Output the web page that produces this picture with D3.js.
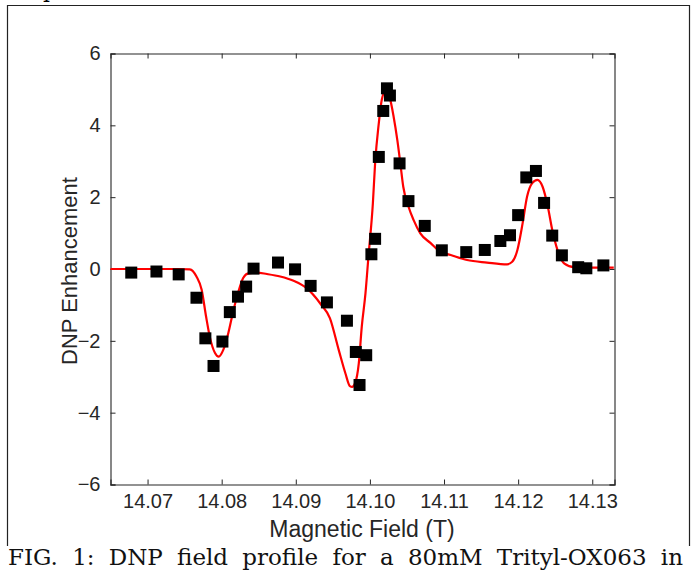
<!DOCTYPE html>
<html><head><meta charset="utf-8">
<script src="https://cdn.jsdelivr.net/npm/d3@7"></script>
<style>body{margin:0;background:#fff}svg{display:block}</style>
</head><body>
<script>
// Measured data points (Magnetic field in T, DNP enhancement)
const fieldData = [14.0678,14.0712,14.0742,14.0766,14.0778,14.0789,14.0801,14.0811,14.0822,14.0833,14.0843,
  14.0876,14.0899,14.0920,14.0942,14.0969,14.0981,14.0986,14.0995,14.1002,14.1007,14.1012,14.1018,14.1023,14.1027,
  14.1040,14.1052,14.1074,14.1097,14.1130,14.1155,14.1176,14.1189,14.1200,14.1211,14.1224,14.1235,14.1246,14.1259,
  14.1281,14.1292,14.1315];
const enhData = [-0.10,-0.07,-0.15,-0.80,-1.93,-2.70,-2.02,-1.20,-0.77,-0.49,0.01,
  0.18,-0.01,-0.47,-0.93,-1.44,-2.31,-3.23,-2.40,0.41,0.84,3.12,4.40,5.03,4.83,
  2.94,1.89,1.20,0.52,0.47,0.53,0.78,0.94,1.50,2.55,2.73,1.84,0.93,0.38,
  0.05,0.02,0.10];
// Fit curve samples
const fitField = [14.0650,14.0680,14.0710,14.0740,14.0757,14.0766,14.0773,14.0779,14.0784,14.0791,14.0796,14.0802,14.0809,14.0815,14.0822,
  14.0829,14.0836,14.0847,14.0861,14.0879,14.0897,14.0915,14.0933,14.0946,14.0958,14.0967,14.0973,14.0976,14.0980,
  14.0985,14.0989,14.0994,14.0998,14.1004,14.1007,14.1012,14.1016,14.1020,14.1023,14.1027,14.1032,14.1037,14.1041,
  14.1045,14.1052,14.1059,14.1068,14.1082,14.1095,14.1109,14.1131,14.1158,14.1185,14.1192,14.1199,14.1206,14.1212,
  14.1219,14.1226,14.1233,14.1240,14.1246,14.1253,14.1262,14.1276,14.1300,14.1329];
const fitEnh = [0.00,0.00,0.00,0.00,-0.01,-0.21,-0.58,-1.33,-1.89,-2.34,-2.44,-2.26,-1.78,-1.23,-0.67,
  -0.25,-0.12,-0.10,-0.14,-0.21,-0.33,-0.54,-0.96,-1.37,-2.26,-2.91,-3.26,-3.28,-3.18,
  -2.63,-1.61,-0.68,0.34,1.83,2.94,4.06,4.71,4.92,4.93,4.75,4.24,3.59,2.95,
  2.29,1.74,1.36,0.99,0.72,0.48,0.39,0.25,0.18,0.13,0.20,0.53,1.27,2.01,
  2.39,2.48,2.29,1.74,1.09,0.53,0.16,0.05,0.04,0.04];
const xTicks = [14.07,14.08,14.09,14.10,14.11,14.12,14.13];
const yTicks = [-6,-4,-2,0,2,4,6];
const xLabel = "Magnetic Field (T)";
const yLabel = "DNP Enhancement";
const caption = "FIG. 1: DNP field profile for a 80mM Trityl-OX063 in";

const W = 691, H = 571;
const svg = d3.select("body").append("svg").attr("width", W).attr("height", H);
svg.append("rect").attr("width", W).attr("height", H).attr("fill", "#fff");

// outer frame (open at bottom, caption below)
svg.append("path").attr("d", "M7.5,546 V5.5 H689.5 V546").attr("fill", "none").attr("stroke", "#222").attr("stroke-width", 1.2);
svg.append("text").attr("x", 43).attr("y", -3).attr("font-family", "DejaVu Serif").attr("font-size", 22).text("p");

const L = 110.5, R = 614.5, T = 53.5, B = 484.5;
const x = d3.scaleLinear().domain([14.065, 14.133]).range([L, R]);
const y = d3.scaleLinear().domain([-6, 6]).range([B, T]);

const font = "Liberation Sans, Arial, Helvetica, sans-serif";
const axCol = "#262626";

const gx = svg.append("g").attr("transform", `translate(0,${B})`)
  .call(d3.axisBottom(x).tickValues(xTicks).tickSize(-5).tickPadding(9).tickFormat(d3.format(".2f")));
const gxt = svg.append("g").attr("transform", `translate(0,${T})`)
  .call(d3.axisTop(x).tickValues(xTicks).tickSize(-5).tickFormat(""));
const gy = svg.append("g").attr("transform", `translate(${L},0)`)
  .call(d3.axisLeft(y).tickValues(yTicks).tickSize(-5).tickPadding(10).tickFormat(d3.format("d")));
const gyr = svg.append("g").attr("transform", `translate(${R},0)`)
  .call(d3.axisRight(y).tickValues(yTicks).tickSize(-5).tickFormat(""));
[gx, gxt, gy, gyr].forEach(g => {
  g.select(".domain").attr("stroke", axCol).attr("stroke-width", 1.1);
  g.selectAll(".tick line").attr("stroke", axCol).attr("stroke-width", 1);
  g.selectAll("text").attr("font-family", font).attr("font-size", 20).attr("fill", "#262626");
});
gx.selectAll("text").attr("dy", "0.71em");

// fit curve
const line = d3.line().x((d, i) => x(fitField[i])).y(d => y(d)).curve(d3.curveMonotoneX);
svg.append("path").attr("d", line(fitEnh)).attr("fill", "none").attr("stroke", "#ff0000").attr("stroke-width", 2.2);

// markers
const s = 12;
svg.append("g").selectAll("rect").data(enhData).join("rect")
  .attr("x", (d, i) => x(fieldData[i]) - s / 2).attr("y", d => y(d) - s / 2)
  .attr("width", s).attr("height", s).attr("fill", "#000");

svg.append("text").attr("x", (L + R) / 2 - 0.5).attr("y", 537).attr("text-anchor", "middle")
  .attr("font-family", font).attr("font-size", 23).attr("fill", "#262626").text(xLabel);
svg.append("text").attr("transform", `translate(77,${(T + B) / 2 + 2}) rotate(-90)`).attr("text-anchor", "middle")
  .attr("font-family", font).attr("font-size", 22).attr("fill", "#262626").text(yLabel);

const cap = svg.append("text").attr("x", 8).attr("y", 565).attr("font-family", "DejaVu Serif, serif").attr("font-size", 23)
  .attr("fill", "#111").text(caption);
const cw = cap.node().getComputedTextLength();
const nSp = caption.split(" ").length - 1;
if (cw < 675) cap.attr("word-spacing", (675 - cw) / nSp);
else cap.attr("textLength", 675).attr("lengthAdjust", "spacingAndGlyphs");
</script>
</body></html>
